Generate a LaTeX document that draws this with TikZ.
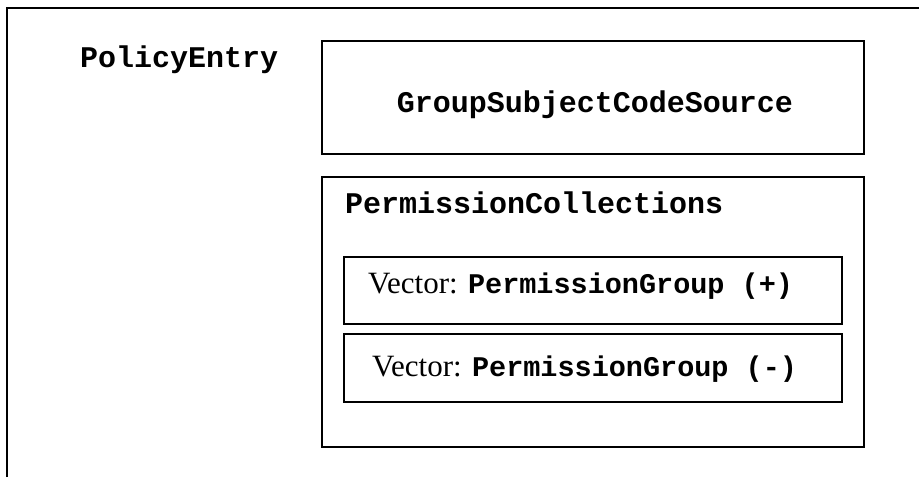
\documentclass[tikz,border=0pt]{standalone}
\usepackage{fontspec}
\setmainfont{Liberation Serif}
\newfontfamily\courfont{Liberation Mono}
\begin{document}
\begin{tikzpicture}[x=1pt,y=-1pt,
  box/.style={draw=black,line width=1.4pt,anchor=north west,inner sep=0pt,outer sep=0pt},
  mono/.style={inner sep=0pt,font=\courfont\bfseries\fontsize{30}{36}\selectfont},
  vec/.style={inner sep=0pt,anchor=base west,font=\fontsize{31}{36}\selectfont}]
\useasboundingbox (0,0) rectangle (919,477);
\draw[line width=2pt] (7,477) -- (7,8) -- (919,8);
\node[mono,anchor=base west] (pe) at (80,67) {PolicyEntry};
\node[box,minimum width=542pt,minimum height=113pt] (gbox) at (322,41) {};
\node[mono,anchor=base] (gscs) at (595,112) {GroupSubjectCodeSource};
\node[box,minimum width=542pt,minimum height=270pt] (pcbox) at (322,177) {};
\node[mono,anchor=base west] (pc) at (345,213) {PermissionCollections};
\node[box,minimum width=498pt,minimum height=67pt] (v1box) at (344,257) {};
\node[vec] (v1) at (368,293) {Vector: {\courfont\bfseries\fontsize{28.5}{34}\selectfont PermissionGroup (+)}};
\node[box,minimum width=498pt,minimum height=68pt] (v2box) at (344,334) {};
\node[vec] (v2) at (372,376) {Vector: {\courfont\bfseries\fontsize{28.5}{34}\selectfont PermissionGroup (-)}};
\end{tikzpicture}
\end{document}
